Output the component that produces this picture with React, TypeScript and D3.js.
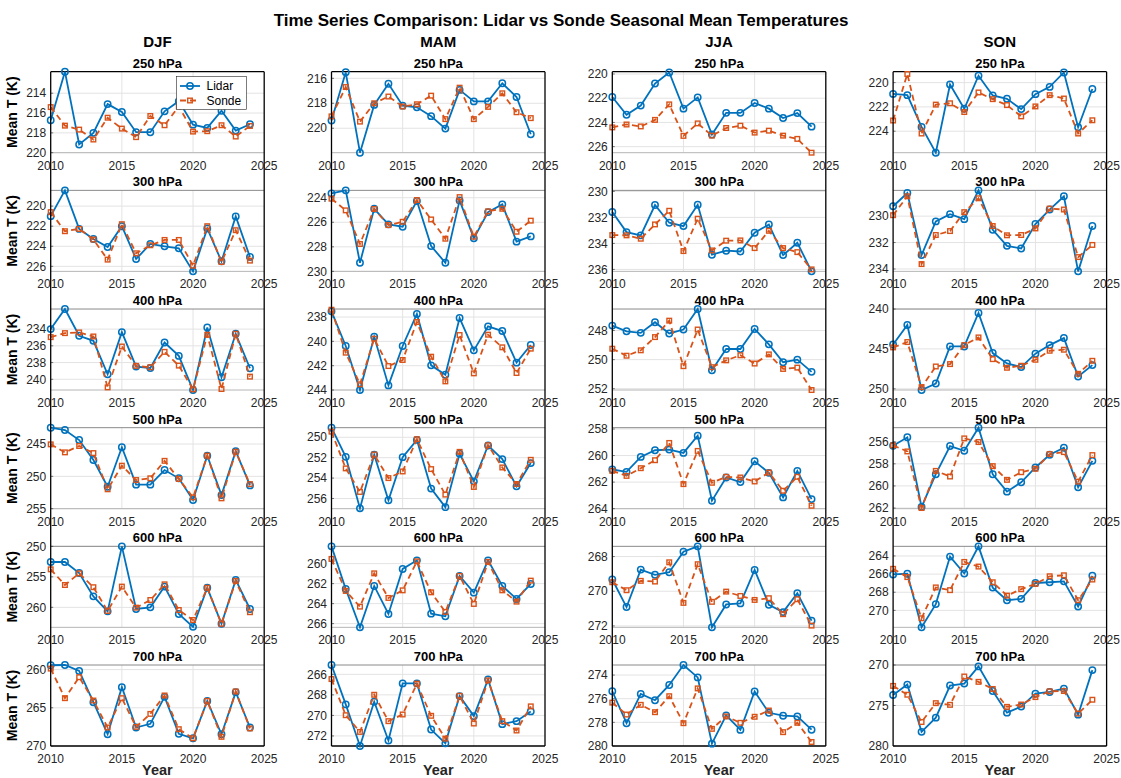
import * as d3 from "d3";
import React from "react";

// categories
const years = [2010, 2011, 2012, 2013, 2014, 2015, 2016, 2017, 2018, 2019, 2020, 2021, 2022, 2023, 2024];
const seasons = ["DJF", "MAM", "JJA", "SON"];
const levels = ["250 hPa", "300 hPa", "400 hPa", "500 hPa", "600 hPa", "700 hPa"];
const xTicks = [2010, 2015, 2020, 2025];

// mean temperature (K), one row per pressure level
const djfLidar = [
  [216.73, 211.83, 219.17, 218.0, 215.1, 215.9, 217.93, 217.93, 215.83, 214.8, 217.17, 217.5, 215.77, 217.77, 217.13],
  [221.0, 218.43, 222.27, 223.27, 224.07, 222.0, 225.27, 223.77, 224.0, 224.2, 226.5, 222.23, 225.5, 221.03, 225.07],
  [234.0, 231.6, 234.8, 235.4, 239.4, 234.36, 238.48, 238.64, 235.6, 237.2, 241.28, 233.8, 239.76, 234.56, 238.68],
  [242.47, 242.84, 244.38, 247.47, 251.6, 245.5, 251.28, 251.28, 249.02, 250.3, 253.66, 246.8, 252.9, 246.1, 251.4],
  [252.57, 252.57, 254.37, 258.2, 260.66, 250.0, 260.27, 260.0, 256.6, 261.1, 263.2, 256.8, 262.7, 255.5, 260.27],
  [259.43, 259.4, 260.18, 264.27, 268.46, 262.3, 267.58, 267.1, 263.57, 268.4, 268.99, 264.1, 268.46, 262.95, 267.58],
];
const djfSonde = [
  [215.4, 217.27, 217.67, 218.67, 216.47, 217.57, 218.43, 216.3, 217.23, 215.33, 217.87, 217.83, 217.23, 218.37, 217.3],
  [220.6, 222.5, 222.27, 223.33, 225.33, 221.8, 224.7, 223.9, 223.37, 223.37, 225.93, 222.0, 225.57, 222.4, 225.43],
  [234.96, 234.48, 234.4, 234.88, 240.96, 236.08, 238.4, 238.56, 236.72, 238.36, 241.2, 234.68, 241.16, 234.56, 239.68],
  [245.05, 246.29, 245.3, 246.4, 252.0, 248.35, 250.57, 250.3, 247.6, 250.4, 253.25, 246.8, 253.4, 246.2, 251.2],
  [253.77, 256.34, 254.43, 256.7, 260.6, 256.6, 260.05, 258.8, 256.23, 260.44, 262.08, 256.8, 262.7, 255.68, 260.8],
  [259.87, 263.74, 261.0, 264.05, 267.58, 263.74, 267.5, 265.8, 263.39, 267.8, 268.99, 264.1, 268.8, 262.86, 267.7],
];
const mamLidar = [
  [219.38, 215.52, 221.96, 218.13, 216.44, 218.19, 218.32, 219.03, 220.03, 216.93, 217.85, 217.85, 216.4, 217.5, 220.48],
  [223.65, 223.4, 229.3, 224.9, 226.17, 226.36, 224.27, 227.94, 229.3, 224.22, 227.31, 225.17, 224.54, 227.58, 227.15],
  [237.53, 240.38, 244.0, 239.62, 243.62, 240.38, 237.75, 241.97, 242.74, 238.08, 240.74, 238.77, 239.15, 241.75, 240.3],
  [249.06, 251.92, 256.97, 251.72, 256.17, 251.95, 250.26, 255.03, 256.85, 251.62, 254.32, 250.81, 252.14, 254.81, 252.53],
  [258.27, 262.53, 266.37, 262.23, 265.03, 260.53, 259.67, 265.0, 265.27, 261.23, 262.9, 259.67, 262.23, 263.53, 262.03],
  [265.09, 268.93, 272.98, 268.67, 272.45, 266.88, 266.88, 271.38, 272.72, 268.12, 270.07, 266.49, 270.85, 270.56, 269.61],
];
const mamSonde = [
  [219.05, 216.7, 219.47, 218.0, 217.46, 218.26, 218.08, 217.39, 219.27, 216.75, 219.27, 218.29, 217.2, 218.72, 219.19],
  [224.08, 225.03, 227.77, 224.92, 226.23, 225.96, 224.19, 225.77, 227.34, 223.95, 227.18, 225.11, 224.9, 226.77, 225.87],
  [237.4, 240.93, 243.53, 239.78, 242.03, 241.53, 238.41, 241.26, 243.29, 239.48, 242.63, 239.45, 240.49, 242.6, 240.6],
  [249.45, 253.05, 255.36, 251.69, 254.0, 253.35, 250.19, 253.12, 255.62, 251.43, 254.87, 250.78, 252.96, 254.58, 252.21],
  [259.53, 262.73, 264.3, 260.97, 263.43, 262.67, 259.77, 262.87, 264.83, 261.23, 264.03, 259.83, 262.67, 263.8, 261.7],
  [266.46, 269.98, 271.61, 267.99, 270.56, 269.91, 266.91, 270.04, 272.26, 268.09, 270.79, 266.59, 270.56, 271.47, 269.12],
];
const jjaLidar = [
  [221.9, 223.37, 222.61, 220.79, 219.87, 222.86, 221.93, 225.0, 223.21, 223.21, 222.39, 222.86, 223.64, 223.23, 224.35],
  [231.59, 233.13, 233.38, 231.05, 232.41, 232.67, 231.03, 234.87, 234.56, 234.62, 233.18, 232.54, 234.9, 233.95, 236.15],
  [247.66, 248.05, 248.16, 247.43, 248.2, 247.93, 246.52, 250.73, 249.27, 249.27, 247.89, 248.95, 250.18, 250.0, 250.84],
  [261.05, 261.23, 260.1, 259.6, 259.55, 259.8, 258.5, 263.4, 261.65, 262.0, 260.43, 261.3, 263.15, 261.15, 263.28],
  [269.32, 270.91, 268.75, 269.05, 268.9, 267.72, 267.41, 272.08, 270.76, 270.7, 268.77, 270.78, 271.2, 270.11, 271.7],
  [275.37, 278.07, 275.6, 276.13, 274.84, 273.15, 274.2, 279.8, 277.41, 278.64, 275.39, 277.19, 277.44, 277.5, 278.62],
];
const jjaSonde = [
  [224.41, 224.17, 224.33, 223.79, 222.51, 225.11, 224.08, 225.09, 224.46, 224.27, 224.84, 224.68, 225.09, 225.36, 226.5],
  [233.36, 233.38, 233.64, 232.54, 231.49, 234.59, 232.1, 234.54, 233.79, 233.77, 234.36, 233.03, 234.36, 234.67, 236.0],
  [249.25, 249.73, 249.36, 248.45, 247.32, 250.45, 247.93, 250.52, 250.05, 249.7, 250.27, 249.64, 250.64, 250.55, 252.09],
  [261.15, 261.53, 260.95, 260.35, 259.05, 262.15, 259.65, 262.05, 261.6, 261.65, 261.95, 261.28, 262.65, 261.6, 263.78],
  [269.48, 269.94, 269.4, 269.44, 268.33, 270.67, 268.44, 270.61, 270.02, 270.27, 270.5, 270.4, 271.32, 270.46, 271.98],
  [276.33, 277.34, 276.52, 277.14, 275.79, 278.07, 275.13, 278.55, 277.5, 278.04, 277.53, 277.0, 278.83, 278.04, 279.66],
];
const sonLidar = [
  [220.93, 221.03, 223.65, 225.77, 220.16, 222.15, 219.43, 221.06, 221.33, 222.18, 220.95, 220.35, 219.16, 223.67, 220.52],
  [229.25, 228.25, 232.95, 230.4, 229.85, 230.23, 228.05, 231.03, 232.25, 232.45, 230.6, 229.5, 228.5, 234.18, 230.75],
  [244.44, 242.0, 250.15, 249.33, 244.69, 244.69, 240.5, 245.52, 246.82, 247.28, 245.6, 244.52, 243.64, 248.45, 247.03],
  [256.36, 255.6, 261.9, 258.94, 256.39, 256.82, 254.73, 258.94, 260.52, 259.67, 258.33, 257.18, 256.55, 260.12, 257.73],
  [266.04, 265.96, 271.87, 269.31, 264.07, 265.93, 262.94, 267.49, 268.88, 268.73, 266.98, 266.9, 266.8, 269.57, 266.19],
  [273.71, 272.42, 278.25, 276.5, 272.54, 272.29, 270.17, 273.21, 275.88, 275.13, 273.54, 273.33, 272.92, 276.13, 270.63],
];
const sonSonde = [
  [223.12, 219.29, 224.19, 221.81, 221.7, 222.42, 220.81, 221.36, 221.85, 222.78, 221.96, 221.03, 221.31, 224.19, 223.1],
  [229.93, 228.5, 233.63, 231.43, 231.13, 229.7, 228.65, 230.75, 231.45, 231.43, 230.93, 229.43, 229.5, 233.1, 232.18],
  [244.81, 244.14, 249.79, 247.2, 246.9, 244.52, 243.56, 246.28, 247.36, 247.11, 246.36, 245.23, 245.1, 248.12, 246.49],
  [256.33, 256.88, 262.0, 258.64, 259.15, 255.7, 256.03, 258.21, 259.45, 258.76, 258.45, 257.12, 256.94, 259.61, 257.21],
  [265.42, 266.33, 270.87, 267.47, 267.77, 264.66, 265.17, 266.9, 268.37, 267.66, 267.08, 266.24, 266.13, 268.88, 266.6],
  [272.58, 273.67, 277.04, 274.71, 274.92, 271.42, 272.08, 272.96, 275.17, 274.88, 273.96, 273.25, 273.21, 276.0, 274.29],
];

// y limits [top, bottom] (axis reversed) and tick labels
const djfLimits = [[211.83, 220], [218.43, 226.5], [231.6, 241.28], [242.47, 255], [250, 263.28], [259.4, 270]];
const mamLimits = [[215.47, 221.96], [223.4, 230], [237.34, 244], [249.06, 257], [258.27, 266.37], [265.09, 272.98]];
const jjaLimits = [[219.81, 226.5], [229.92, 236.15], [246.52, 252.09], [257.9, 264], [267.41, 272.08], [273.15, 280]];
const sonLimits = [[219.1, 225.77], [228.05, 234.18], [240, 250.15], [254.73, 262.06], [262.94, 271.87], [270, 280]];

const djfTicks = [[214, 216, 218, 220], [220, 222, 224, 226], [234, 236, 238, 240], [245, 250, 255], [250, 255, 260], [260, 265, 270]];
const mamTicks = [[216, 218, 220], [224, 226, 228, 230], [238, 240, 242, 244], [250, 252, 254, 256], [260, 262, 264, 266], [266, 268, 270, 272]];
const jjaTicks = [[220, 222, 224, 226], [230, 232, 234, 236], [248, 250, 252], [258, 260, 262, 264], [268, 270, 272], [274, 276, 278, 280]];
const sonTicks = [[220, 222, 224], [230, 232, 234], [240, 245, 250], [256, 258, 260, 262], [264, 266, 268, 270], [270, 275, 280]];

const lidarBySeason = [djfLidar, mamLidar, jjaLidar, sonLidar];
const sondeBySeason = [djfSonde, mamSonde, jjaSonde, sonSonde];
const limitsBySeason = [djfLimits, mamLimits, jjaLimits, sonLimits];
const ticksBySeason = [djfTicks, mamTicks, jjaTicks, sonTicks];

const W = 1121;
const H = 778;
const colLeft = 50.7;
const colStep = 280.8;
const panelW = 213.5;
const rowTop = 71.7;
const rowStep = 118.66;
const panelH = 81;

const BLUE = "#0072BD";
const ORANGE = "#D95319";
const FONT = "'Liberation Sans', Arial, Helvetica, sans-serif";
const TXT = "#262626";

const Panel = ({ s, r }: { s: number; r: number }) => {
  const left = colLeft + s * colStep;
  const top = rowTop + r * rowStep;
  const x = d3.scaleLinear().domain([2010, 2025]).range([left, left + panelW]);
  const y = d3.scaleLinear().domain(limitsBySeason[s][r]).range([top, top + panelH]);
  const lidar = lidarBySeason[s][r];
  const sonde = sondeBySeason[s][r];
  const line = d3
    .line<number>()
    .x((_, i) => x(years[i]))
    .y((d) => y(d));
  const ticks = ticksBySeason[s][r];

  return (
    <g>
      {/* grid */}
      {ticks.map((t) => (
        <line key={"gy" + t} x1={left} x2={left + panelW} y1={y(t)} y2={y(t)} stroke="#e3e3e3" strokeWidth={1} />
      ))}
      {xTicks.slice(1, 3).map((t) => (
        <line key={"gx" + t} x1={x(t)} x2={x(t)} y1={top} y2={top + panelH} stroke="#e3e3e3" strokeWidth={1} />
      ))}
      {/* horizontal edges */}
      <line x1={left} x2={left + panelW} y1={top} y2={top} stroke={r === 0 ? "#000" : "#8a8a8a"} strokeWidth={r === 0 ? 1.3 : 1} />
      <line
        x1={left}
        x2={left + panelW}
        y1={top + panelH}
        y2={top + panelH}
        stroke={r === 5 ? "#000" : "#b5b5b5"}
        strokeWidth={r === 5 ? 1.3 : 1}
      />
      {/* y ticks */}
      {ticks.map((t) => (
        <g key={"yt" + t}>
          <line x1={left} x2={left + 2.5} y1={y(t)} y2={y(t)} stroke={TXT} strokeWidth={0.6} />
          <text x={left - 4.5} y={y(t)} dy="0.35em" textAnchor="end" fontSize={12} fill={TXT}>
            {t}
          </text>
        </g>
      ))}
      {/* x ticks */}
      {xTicks.map((t) => (
        <text key={"xt" + t} x={x(t)} y={top + panelH + 17} textAnchor="middle" fontSize={12} fill={TXT}>
          {t}
        </text>
      ))}
      {/* title */}
      <text x={left + panelW / 2} y={top - 4} textAnchor="middle" fontSize={13} fontWeight="bold" fill="#000">
        {levels[r]}
      </text>
      {/* series */}
      <path d={line(lidar) || ""} fill="none" stroke={BLUE} strokeWidth={1.8} />
      {lidar.map((d, i) => (
        <circle key={"l" + i} cx={x(years[i])} cy={y(d)} r={3.2} fill="none" stroke={BLUE} strokeWidth={1.5} />
      ))}
      <path d={line(sonde) || ""} fill="none" stroke={ORANGE} strokeWidth={1.8} strokeDasharray="6,4" />
      {sonde.map((d, i) => (
        <rect key={"s" + i} x={x(years[i]) - 2.3} y={y(d) - 2.3} width={4.6} height={4.6} fill="none" stroke={ORANGE} strokeWidth={1.4} />
      ))}
      {s === 0 && (
        <text
          transform={`translate(${left - 34},${top + panelH / 2}) rotate(-90)`}
          textAnchor="middle"
          fontSize={14}
          fontWeight="bold"
          fill="#000"
        >
          Mean T (K)
        </text>
      )}
    </g>
  );
};

const Legend = () => {
  const lx = 176.5;
  const ly = 76.5;
  return (
    <g>
      <rect x={lx} y={ly} width={70} height={33} fill="#fff" stroke="#262626" strokeWidth={0.6} />
      <line x1={lx + 3.5} x2={lx + 23.5} y1={ly + 9.5} y2={ly + 9.5} stroke={BLUE} strokeWidth={1.8} />
      <circle cx={lx + 13.5} cy={ly + 9.5} r={3.2} fill="none" stroke={BLUE} strokeWidth={1.5} />
      <text x={lx + 30} y={ly + 9.5} dy="0.35em" fontSize={12} fill="#000">
        Lidar
      </text>
      <line x1={lx + 3.5} x2={lx + 23.5} y1={ly + 24} y2={ly + 24} stroke={ORANGE} strokeWidth={1.8} strokeDasharray="6,4" />
      <rect x={lx + 11.2} y={ly + 21.7} width={4.6} height={4.6} fill="none" stroke={ORANGE} strokeWidth={1.4} />
      <text x={lx + 30} y={ly + 24} dy="0.35em" fontSize={12} fill="#000">
        Sonde
      </text>
    </g>
  );
};

export default function App() {
  const colTop = rowTop;
  const colBottom = rowTop + 5 * rowStep + panelH;
  return (
    <svg
      width={W}
      height={H}
      viewBox={`0 0 ${W} ${H}`}
      style={{ position: "absolute", left: 0, top: 0, background: "#fff", fontFamily: FONT }}
    >
      <rect width={W} height={H} fill="#fff" />
      <text x={W / 2 + 0.5} y={26} textAnchor="middle" fontSize={17} fontWeight="bold" fill="#000">
        Time Series Comparison: Lidar vs Sonde Seasonal Mean Temperatures
      </text>
      {seasons.map((season, s) => {
        const left = colLeft + s * colStep;
        return (
          <g key={season}>
            <text x={left + panelW / 2} y={47} textAnchor="middle" fontSize={15} fontWeight="bold" fill="#000">
              {season}
            </text>
            {levels.map((_, r) => (
              <Panel key={r} s={s} r={r} />
            ))}
            <line x1={left} x2={left} y1={colTop} y2={colBottom} stroke="#000" strokeWidth={1.3} />
            <line x1={left + panelW} x2={left + panelW} y1={colTop} y2={colBottom} stroke="#000" strokeWidth={1.3} />
            <text x={left + panelW / 2} y={775} textAnchor="middle" fontSize={14.5} fontWeight="bold" fill={TXT}>
              Year
            </text>
          </g>
        );
      })}
      <Legend />
    </svg>
  );
}
